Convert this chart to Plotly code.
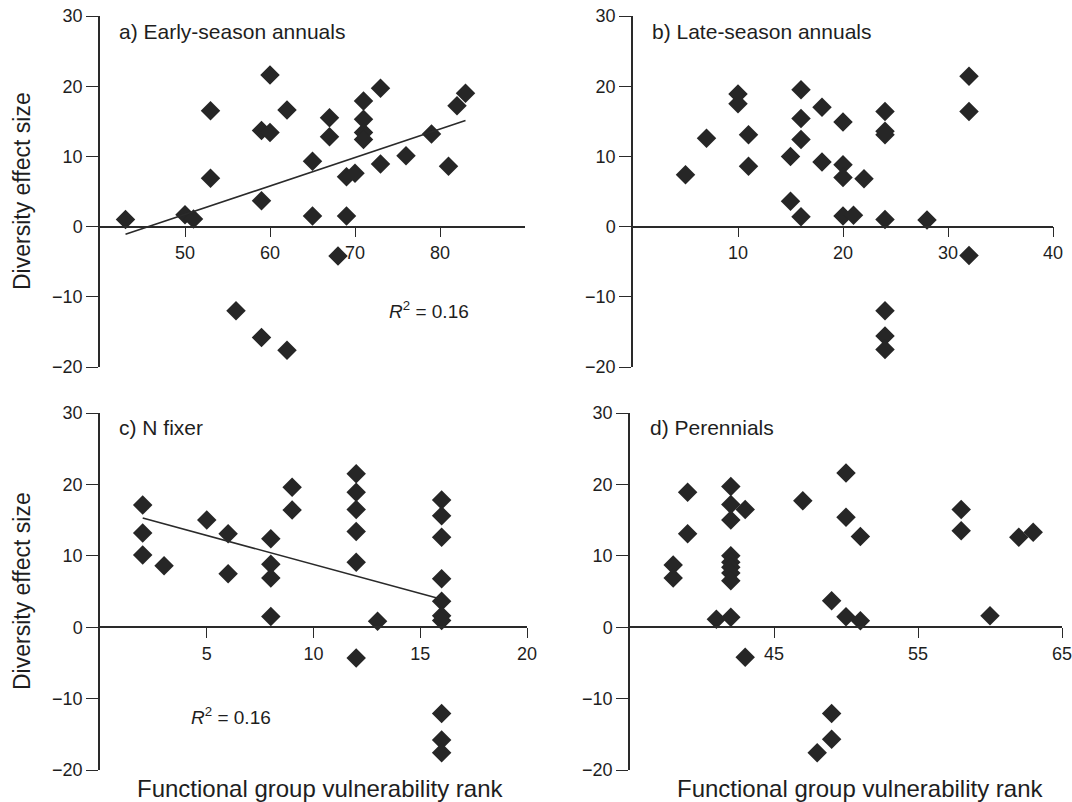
import plotly.graph_objects as go

# ---------------- data ----------------
a_x = [43, 50, 51, 53, 53, 59, 60, 60, 59, 62, 56, 59, 62, 65, 65, 67, 67, 68, 69, 70, 69,
       71, 71, 71, 71, 73, 73, 76, 79, 81, 82, 83]
a_y = [1.0, 1.7, 1.1, 16.5, 6.9, 13.7, 13.4, 21.6, 3.7, 16.6, -12.0, -15.8, -17.6, 9.3, 1.5,
       15.5, 12.8, -4.2, 7.1, 7.6, 1.5, 17.9, 15.3, 13.4, 12.4, 19.7, 8.9, 10.1, 13.2, 8.6, 17.2, 19.0]
a_fit_x = [43, 83]
a_fit_y = [-1.1, 15.1]

b_x = [5, 7, 10, 10, 11, 11, 15, 15, 16, 16, 16, 16, 18, 18, 20, 20, 20, 20, 21, 22,
       24, 24, 24, 24, 24, 24, 24, 28, 32, 32, 32]
b_y = [7.4, 12.6, 18.9, 17.5, 13.1, 8.6, 10.0, 3.6, 19.5, 15.4, 12.4, 1.4, 17.0, 9.2,
       14.9, 8.8, 7.0, 1.5, 1.6, 6.8, 16.4, 13.6, 13.1, 1.0, -12.0, -15.6, -17.5, 0.95,
       21.4, 16.4, -4.1]

c_x = [2, 2, 2, 3, 5, 6, 6, 8, 8, 8, 8, 9, 9, 12, 12, 12, 12, 12, 12, 13,
       16, 16, 16, 16, 16, 16, 16, 16, 16, 16]
c_y = [17.1, 13.2, 10.1, 8.6, 15.0, 13.1, 7.5, 12.4, 8.8, 6.9, 1.5, 19.6, 16.4,
       21.5, 18.9, 16.5, 13.4, 9.1, -4.3, 0.85,
       17.8, 15.6, 12.6, 6.8, 3.65, 1.6, 0.95, -12.1, -15.8, -17.6]
c_fit_x = [2, 16]
c_fit_y = [15.3, 3.9]

d_x = [38, 38, 39, 39, 41, 42, 42, 42, 42, 42, 42, 42, 42, 42, 43, 43, 47, 49, 49, 49,
       48, 50, 50, 50, 51, 51, 58, 58, 60, 62, 63]
d_y = [8.7, 6.9, 18.9, 13.1, 1.1, 19.7, 17.2, 15.0, 10.0, 9.1, 8.4, 7.6, 6.5, 1.4,
       16.5, -4.2, 17.7, 3.7, -12.1, -15.7, -17.6, 21.6, 15.4, 1.45, 12.7, 0.9,
       16.5, 13.5, 1.6, 12.6, 13.3]

panel_titles = ["a) Early-season annuals", "b) Late-season annuals", "c) N fixer", "d) Perennials"]
x_ranges = [[40, 90], [0, 40], [0, 20], [35, 65]]
x_ticks = [[50, 60, 70, 80], [10, 20, 30, 40], [5, 10, 15, 20], [45, 55, 65]]
y_ticks = [-20, -10, 0, 10, 20, 30]
y_range = [-20, 30]
r2_text = "<i>R</i><sup>2</sup> = 0.16"
y_title = "Diversity effect size"
x_title = "Functional group vulnerability rank"

# ---------------- layout geometry ----------------
W, H = 1072, 802
def px_x(p): return p / W
def px_y(p): return 1 - p / H

x_domains = [[px_x(100), px_x(525)], [px_x(633), px_x(1053)],
             [px_x(100), px_x(527)], [px_x(630), px_x(1062)]]
y_domains = [[px_y(367), px_y(16)], [px_y(367), px_y(16)],
             [px_y(770), px_y(413)], [px_y(770), px_y(413)]]

MARK = "#262626"
AX = "#2a2a2a"
TXT = "#1e1e1e"
FONT = "Liberation Sans, Arial, sans-serif"

fig = go.Figure()
data_sets = [(a_x, a_y), (b_x, b_y), (c_x, c_y), (d_x, d_y)]
for i, (xs, ys) in enumerate(data_sets):
    sfx = "" if i == 0 else str(i + 1)
    fig.add_trace(go.Scatter(x=xs, y=ys, mode="markers", xaxis="x" + sfx, yaxis="y" + sfx,
                             marker=dict(symbol="diamond", size=15, color=MARK, line=dict(width=0)),
                             showlegend=False, hoverinfo="x+y"))

fig.add_trace(go.Scatter(x=a_fit_x, y=a_fit_y, mode="lines", xaxis="x", yaxis="y",
                         line=dict(color=AX, width=1.6), showlegend=False))
fig.add_trace(go.Scatter(x=c_fit_x, y=c_fit_y, mode="lines", xaxis="x3", yaxis="y3",
                         line=dict(color=AX, width=1.6), showlegend=False))

layout = dict(template="none", width=W, height=H, margin=dict(l=0, r=0, t=0, b=0, pad=0),
              paper_bgcolor="white", plot_bgcolor="white", showlegend=False,
              font=dict(family=FONT, size=18, color=TXT))

for i in range(4):
    sfx = "" if i == 0 else str(i + 1)
    yd = y_domains[i]
    zero_pos = yd[0] + (0 - y_range[0]) / (y_range[1] - y_range[0]) * (yd[1] - yd[0])
    layout["xaxis" + sfx] = dict(domain=x_domains[i], range=x_ranges[i], anchor="free",
                                 position=zero_pos, tickvals=x_ticks[i], showgrid=False,
                                 zeroline=False, showline=True, linecolor=AX, linewidth=1.5,
                                 ticks="outside", ticklen=10, tickwidth=1.3, tickcolor=AX,
                                 automargin=False, ticklabeloverflow="allow",
                                 tickfont=dict(size=18, color=TXT))
    layout["yaxis" + sfx] = dict(domain=yd, range=y_range, anchor="x" + sfx,
                                 tickvals=y_ticks, showgrid=False, zeroline=False,
                                 showline=True, linecolor=AX, linewidth=1.5,
                                 ticks="outside", ticklen=12, tickwidth=1.3, tickcolor=AX,
                                 automargin=False, ticklabeloverflow="allow",
                                 tickfont=dict(size=18, color=TXT))

anns = []
title_pos = [(117, 32), (650, 32), (117, 428), (648, 428)]
for t, (x, y) in zip(panel_titles, title_pos):
    anns.append(dict(text=t, x=px_x(x), y=px_y(y), xref="paper", yref="paper",
                     xanchor="left", yanchor="middle", showarrow=False,
                     font=dict(size=21, color=TXT)))
anns.append(dict(text=r2_text, x=px_x(429), y=px_y(310), xref="paper", yref="paper",
                 xanchor="center", yanchor="middle", showarrow=False, font=dict(size=19, color=TXT)))
anns.append(dict(text=r2_text, x=px_x(231), y=px_y(716), xref="paper", yref="paper",
                 xanchor="center", yanchor="middle", showarrow=False, font=dict(size=19, color=TXT)))
for yc in (191, 591):
    anns.append(dict(text=y_title, x=px_x(22), y=px_y(yc), xref="paper", yref="paper",
                     xanchor="center", yanchor="middle", textangle=-90, showarrow=False,
                     font=dict(size=23, color=TXT)))
for xc in (320, 860):
    anns.append(dict(text=x_title, x=px_x(xc), y=px_y(788), xref="paper", yref="paper",
                     xanchor="center", yanchor="middle", showarrow=False,
                     font=dict(size=24, color=TXT)))
layout["annotations"] = anns

fig.update_layout(**layout)
# remove the default page margin so the figure fills the window exactly
fig.write_html("out.html",
               config={"displayModeBar": False},
               post_script="document.body.style.margin='0px';document.body.style.overflow='hidden';")
